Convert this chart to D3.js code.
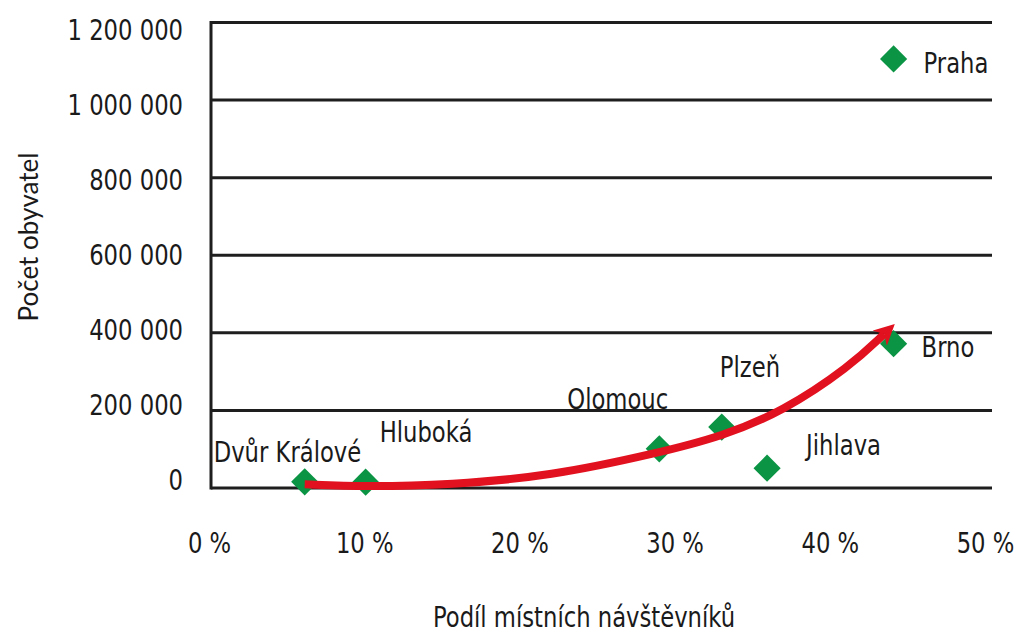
<!DOCTYPE html>
<html lang="cs">
  <head>
    <meta charset="UTF-8" />
    <title>Počet obyvatel a podíl místních návštěvníků</title>
    <style>
      html,
      body {
        margin: 0;
        background: #fff;
      }
      svg text {
        fill: #1a1a1a;
        font-family: "Liberation Sans Narrow", "DejaVu Sans Condensed", sans-serif;
      }
    </style>
    <script src="https://cdn.jsdelivr.net/npm/d3@7"></script>
  </head>
  <body>
    <script>
      const width = 1024;
      const height = 641;

      // data
      const cities = ["Praha", "Brno", "Plzeň", "Olomouc", "Jihlava", "Hluboká", "Dvůr Králové"];
      const share = [43.7, 43.7, 32.7, 28.7, 35.6, 9.9, 6.0]; // % local visitors
      const population = [1106000, 372000, 157000, 101000, 51000, 15000, 16000];
      // label offsets from the point (px)
      const labelDx = [30, 28, -2, -92, 39, 14, -91];
      const labelDy = [14, 13, -50, -40, -13, -40, -20];

      const xTicks = [0, 10, 20, 30, 40, 50];
      const yTicks = [0, 200000, 400000, 600000, 800000, 1000000, 1200000];

      // trend arrow, drawn in data space
      const trendX = [6.0, 9.9, 15.3, 21.7, 28.7, 32.7, 36.6, 40.9, 43.1];
      const trendY = [9500, 3400, 8500, 30000, 91000, 133000, 197000, 313000, 397000];

      const svg = d3.select("body").append("svg").attr("width", width).attr("height", height);

      const x = d3.scaleLinear().domain([0, 50]).range([211, 992]);
      const y = d3.scaleLinear().domain([0, 1200000]).range([488, 22.5]);
      // tick labels sit on a slightly tighter grid than the lines
      const xLab = d3.scaleLinear().domain([0, 50]).range([209.5, 985.5]);
      const yLab = d3.scaleLinear().domain([0, 1200000]).range([480, 30]);

      const fmt = (v) => d3.format(",")(v).replace(/,/g, " ");
      const squeeze = 0.87; // the original uses a condensed face
      const at = (px, py) => `translate(${px}, ${py}) scale(${squeeze}, 1)`;

      // gridlines
      svg
        .append("g")
        .selectAll("line")
        .data(yTicks)
        .join("line")
        .attr("x1", x(0))
        .attr("x2", x(50))
        .attr("y1", (d) => y(d))
        .attr("y2", (d) => y(d))
        .attr("stroke", "#1e1e1e")
        .attr("stroke-width", 3);

      // left axis line
      svg
        .append("line")
        .attr("x1", x(0))
        .attr("x2", x(0))
        .attr("y1", y(1200000) - 1.5)
        .attr("y2", y(0) + 1.5)
        .attr("stroke", "#1e1e1e")
        .attr("stroke-width", 3);

      // y tick labels
      svg
        .append("g")
        .selectAll("text")
        .data(yTicks)
        .join("text")
        .attr("transform", (d) => at(183, yLab(d)))
        .attr("dy", "0.36em")
        .attr("text-anchor", "end")
        .attr("font-size", 29)
        .text(fmt);

      // x tick labels
      svg
        .append("g")
        .selectAll("text")
        .data(xTicks)
        .join("text")
        .attr("transform", (d) => at(xLab(d), 543))
        .attr("dy", "0.36em")
        .attr("text-anchor", "middle")
        .attr("font-size", 29)
        .text((d) => d + " %");

      // axis titles
      svg
        .append("text")
        .attr("transform", at(584, 627))
        .attr("text-anchor", "middle")
        .attr("font-size", 29)
        .text("Podíl místních návštěvníků");

      svg
        .append("text")
        .attr("transform", "translate(38, 237) rotate(-90)")
        .attr("text-anchor", "middle")
        .attr("font-size", 26)
        .style("font-family", "Lato, 'Open Sans', sans-serif")
        .text("Počet obyvatel");

      // points
      const idx = d3.range(cities.length);
      svg
        .append("g")
        .selectAll("path")
        .data(idx)
        .join("path")
        .attr("d", d3.symbol(d3.symbolSquare, 370))
        .attr("transform", (i) => `translate(${x(share[i])}, ${y(population[i])}) rotate(45)`)
        .attr("fill", "#0a9444");

      // trend arrow
      svg
        .append("defs")
        .append("marker")
        .attr("id", "head")
        .attr("viewBox", "0 0 10 10")
        .attr("refX", 3)
        .attr("refY", 5)
        .attr("markerWidth", 2.6)
        .attr("markerHeight", 2.6)
        .attr("orient", "auto")
        .append("path")
        .attr("d", "M0,0 L10,5 L0,10 L3,5 Z")
        .attr("fill", "#e2111f");

      const trend = d3
        .line()
        .x((i) => x(trendX[i]))
        .y((i) => y(trendY[i]))
        .curve(d3.curveBasis);

      svg
        .append("path")
        .attr("d", trend(d3.range(trendX.length)))
        .attr("fill", "none")
        .attr("stroke", "#e2111f")
        .attr("stroke-width", 8)
        .attr("marker-end", "url(#head)");

      // point labels
      svg
        .append("g")
        .selectAll("text")
        .data(idx)
        .join("text")
        .attr("transform", (i) => at(x(share[i]) + labelDx[i], y(population[i]) + labelDy[i]))
        .attr("font-size", 29)
        .text((i) => cities[i]);
    </script>
  </body>
</html>
